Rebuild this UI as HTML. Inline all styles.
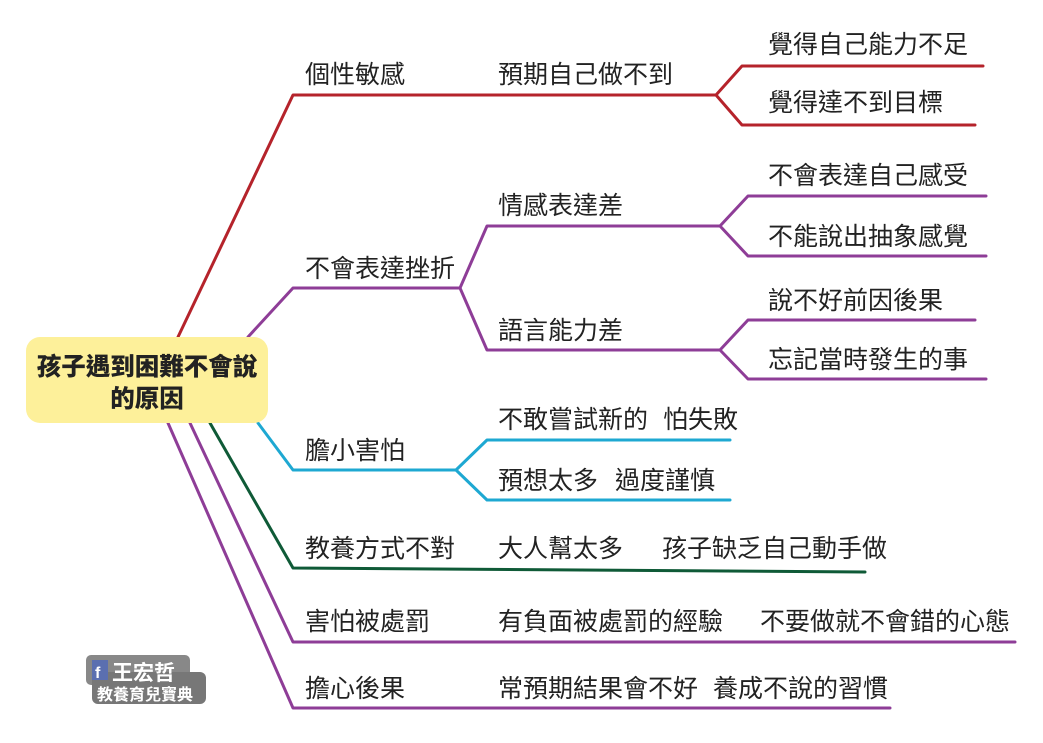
<!DOCTYPE html>
<html><head><meta charset="utf-8"><style>
html,body{margin:0;padding:0;background:#fff;}
svg text{font-family:"Liberation Sans","Noto Sans CJK TC",sans-serif;font-size:25px;fill:#222;}
</style></head><body>
<svg width="1043" height="738" viewBox="0 0 1043 738" xmlns="http://www.w3.org/2000/svg">
<g fill="none" stroke-width="3" stroke-linejoin="round" stroke-linecap="round">
<path d="M178 337 L293 95 L716 95 M716 95 L742 66 L983 66 M716 95 L742 125 L975 125" stroke="#b5232b"/>
<path d="M248 337 L293 288 L460 288 M460 288 L487 226 L720 226 M460 288 L487 350 L720 350 M720 226 L748 196 L986 196 M720 226 L748 256 L986 256 M720 350 L748 320 L975 320 M720 350 L748 379 L986 379" stroke="#8e3d97"/>
<path d="M258 423 L293 470 L456 470 M456 470 L487 440 L730 440 M456 470 L487 500 L730 500" stroke="#1ea8d2"/>
<path d="M210 423 L293 568 L865 572" stroke="#0f5a37"/>
<path d="M190 423 L293 642 L1015 642" stroke="#8e3d97"/>
<path d="M168 423 L293 708 L890 708" stroke="#8e3d97"/>
</g>
<rect x="26" y="337" width="242" height="86" rx="14" fill="#fdf09a"/>
<text x="147" y="375" text-anchor="middle" style="font-weight:900;font-size:24.5px">孩子遇到困難不會說</text>
<text x="147" y="407" text-anchor="middle" style="font-weight:900;font-size:24.5px">的原因</text>

<text x="305" y="83">個性敏感</text>
<text x="498" y="83">預期自己做不到</text>
<text x="768" y="53">覺得自己能力不足</text>
<text x="768" y="111">覺得達不到目標</text>

<text x="305" y="277">不會表達挫折</text>
<text x="498" y="214">情感表達差</text>
<text x="498" y="339">語言能力差</text>
<text x="768" y="184">不會表達自己感受</text>
<text x="768" y="245">不能說出抽象感覺</text>
<text x="768" y="309">說不好前因後果</text>
<text x="768" y="368">忘記當時發生的事</text>

<text x="305" y="459">膽小害怕</text>
<text x="498" y="428">不敢嘗試新的</text><text x="663" y="428">怕失敗</text>
<text x="498" y="489">預想太多</text><text x="615" y="489">過度謹慎</text>

<text x="305" y="557">教養方式不對</text>
<text x="498" y="557">大人幫太多</text><text x="662" y="557">孩子缺乏自己動手做</text>

<text x="305" y="630">害怕被處罰</text>
<text x="498" y="630">有負面被處罰的經驗</text><text x="760" y="630">不要做就不會錯的心態</text>

<text x="305" y="697">擔心後果</text>
<text x="498" y="697">常預期結果會不好</text><text x="713" y="697">養成不說的習慣</text>

<rect x="86" y="655" width="104" height="30" rx="5" fill="#888"/>
<rect x="92" y="672" width="114" height="32" rx="6" fill="#777"/>
<rect x="92" y="660" width="16" height="20" fill="#5b6fb0"/>
<text x="95" y="678" style="fill:#fff;font-weight:bold;font-size:16px">f</text>
<text x="112" y="680" style="fill:#fff;font-weight:bold;font-size:21px">王宏哲</text>
<text x="97" y="700" style="fill:#fff;font-weight:bold;font-size:16px">教養育兒寶典</text>
</svg>
</body></html>
